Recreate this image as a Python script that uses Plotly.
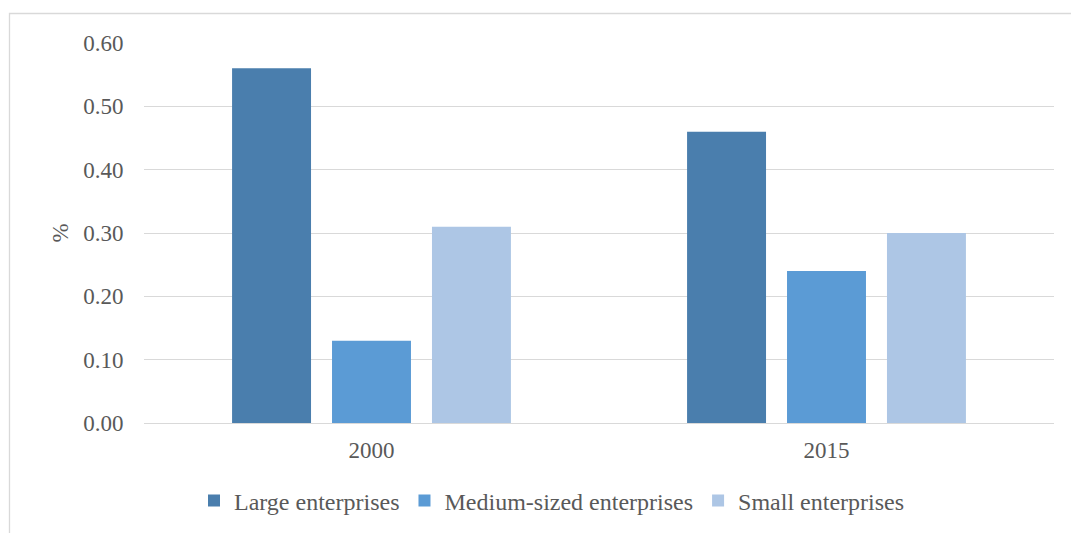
import plotly.graph_objects as go

years = ["2000", "2015"]
large = [0.56, 0.46]
medium = [0.13, 0.24]
small = [0.31, 0.30]
series_names = ["Large enterprises", "Medium-sized enterprises", "Small enterprises"]
colors = ["#4A7EAD", "#5B9BD5", "#ADC6E5"]
y_ticks = [0.0, 0.1, 0.2, 0.3, 0.4, 0.5, 0.6]

W, H = 1071, 533
L, R, T, B = 144, 17, 43, 110
pw, ph = W - L - R, H - T - B

fig = go.Figure()
for name, vals, col in zip(series_names, [large, medium, small], colors):
    fig.add_trace(go.Bar(x=years, y=vals, name=name, marker=dict(color=col, line=dict(width=0))))

font_family = "Liberation Serif"
txt = "#595959"

def px_x(x):
    return (x - L) / pw

def px_y(y):
    return (H - B - y) / ph

fig.update_layout(
    width=W, height=H,
    margin=dict(l=L, r=R, t=T, b=B, autoexpand=False),
    paper_bgcolor="white", plot_bgcolor="white",
    barmode="group", bargap=0.341, bargroupgap=0.21,
    font=dict(family=font_family, size=23, color=txt),
    showlegend=True,
    legend=dict(orientation="h", x=px_x(552), xanchor="center", y=px_y(501), yanchor="middle",
                font=dict(family=font_family, size=24, color=txt), traceorder="normal",
                itemclick=False, itemwidth=30),
    xaxis=dict(showgrid=False, showline=False, ticks="outside", ticklen=6, automargin=False,
               tickcolor="rgba(0,0,0,0)", tickfont=dict(family=font_family, size=23, color=txt)),
    yaxis=dict(range=[0, 0.6], tickvals=y_ticks, tickformat=".2f", automargin=False,
               showgrid=True, gridcolor="#D9D9D9", gridwidth=1.3,
               zeroline=True, zerolinecolor="#D9D9D9", zerolinewidth=1.3,
               showline=False, ticks="outside", ticklen=15, tickcolor="rgba(0,0,0,0)",
               tickfont=dict(family=font_family, size=23, color=txt),
               title=dict(text="%", font=dict(family=font_family, size=23, color=txt), standoff=8)),
    shapes=[dict(type="rect", xref="paper", yref="paper",
                 x0=px_x(9.5), x1=px_x(1080), y0=px_y(13.5), y1=px_y(545),
                 line=dict(color="#D9D9D9", width=1.3), fillcolor="rgba(0,0,0,0)", layer="below")],
)

fig.write_html("out.html")
